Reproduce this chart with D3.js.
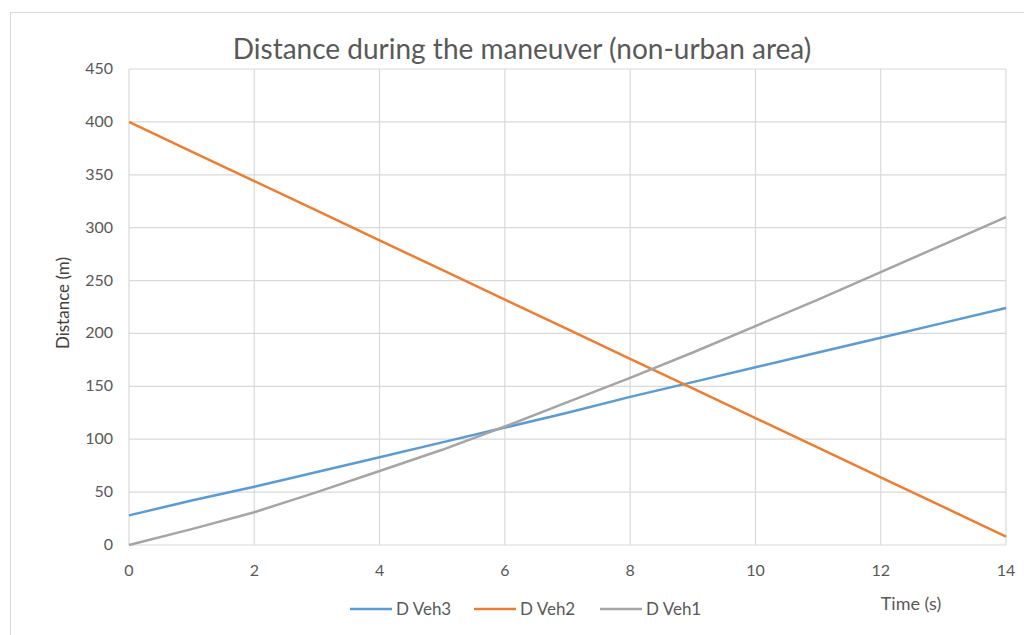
<!DOCTYPE html>
<html>
<head>
<meta charset="utf-8">
<script src="https://cdn.jsdelivr.net/npm/d3@7"></script>
<style>
  body { margin: 0; background: #fff; }
  svg { font-family: Lato, "Open Sans", sans-serif; }
  .grid line { stroke: #d9d9d9; stroke-width: 1.2; }
  .tick-label { fill: #595959; font-size: 16px; }
</style>
</head>
<body>
<div id="wrapper"></div>
<script>
// data (one value per second)
const times = [0, 1, 2, 3, 4, 5, 6, 7, 8, 9, 10, 11, 12, 13, 14];
const dVeh3 = [28, 42, 55, 69, 83, 97, 111, 125, 140, 154, 168, 182, 196, 210, 224];
const dVeh2 = [400, 372, 344, 316, 288, 260, 232, 204, 176, 148, 120, 92, 64, 36, 8];
const dVeh1 = [0, 15, 31, 50, 70, 90, 112, 135, 158, 182, 207, 232, 258, 284, 310];
const xTicks = [0, 2, 4, 6, 8, 10, 12, 14];
const yTicks = [0, 50, 100, 150, 200, 250, 300, 350, 400, 450];
const seriesNames = ['D Veh3', 'D Veh2', 'D Veh1'];
const seriesColors = ['#5b9bd5', '#ed7d31', '#a5a5a5'];

const width = 1024;
const height = 635;
const margin = { top: 69, right: 18, bottom: 90, left: 129 };

const svg = d3.select('#wrapper').append('svg')
  .attr('width', width)
  .attr('height', height);

// chart frame
svg.append('rect')
  .attr('x', 10.5).attr('y', 12.5)
  .attr('width', 1030).attr('height', 640)
  .attr('fill', 'none').attr('stroke', '#d9d9d9');

const xScale = d3.scaleLinear().domain([0, 14]).range([margin.left, width - margin.right]);
const yScale = d3.scaleLinear().domain([0, 450]).range([height - margin.bottom, margin.top]);

const grid = svg.append('g').attr('class', 'grid');
grid.selectAll('.h').data(yTicks).join('line')
  .attr('x1', xScale(0)).attr('x2', xScale(14))
  .attr('y1', d => yScale(d)).attr('y2', d => yScale(d));
grid.selectAll('.v').data(xTicks).join('line')
  .attr('x1', d => xScale(d)).attr('x2', d => xScale(d))
  .attr('y1', yScale(0)).attr('y2', yScale(450));

svg.selectAll('.ylab').data(yTicks).join('text')
  .attr('class', 'tick-label')
  .attr('x', margin.left - 16)
  .attr('y', d => yScale(d) + 5)
  .attr('text-anchor', 'end')
  .text(d => d);

svg.selectAll('.xlab').data(xTicks).join('text')
  .attr('class', 'tick-label')
  .attr('x', d => xScale(d))
  .attr('y', yScale(0) + 31)
  .attr('text-anchor', 'middle')
  .text(d => d);

const line = d3.line()
  .x((d, i) => xScale(times[i]))
  .y(d => yScale(d));

[dVeh3, dVeh2, dVeh1].forEach((values, i) => {
  svg.append('path')
    .attr('d', line(values))
    .attr('fill', 'none')
    .attr('stroke', seriesColors[i])
    .attr('stroke-width', 2.5);
});

// title and axis titles
svg.append('text')
  .attr('x', 522).attr('y', 59)
  .attr('text-anchor', 'middle')
  .attr('fill', '#595959')
  .style('font-size', '28px')
  .text('Distance during the maneuver (non-urban area)');

svg.append('text')
  .attr('transform', 'translate(69, 303) rotate(-90)')
  .attr('text-anchor', 'middle')
  .attr('fill', '#404040')
  .style('font-size', '17px')
  .text('Distance (m)');

svg.append('text')
  .attr('x', 911).attr('y', 610)
  .attr('text-anchor', 'middle')
  .attr('fill', '#595959')
  .style('font-size', '18px')
  .text('Time (s)');

// legend
const legendX = [350, 474, 600];
seriesNames.forEach((name, i) => {
  svg.append('line')
    .attr('x1', legendX[i]).attr('x2', legendX[i] + 42)
    .attr('y1', 609).attr('y2', 609)
    .attr('stroke', seriesColors[i]).attr('stroke-width', 2.5);
  svg.append('text')
    .attr('class', 'tick-label')
    .attr('x', legendX[i] + 46).attr('y', 615)
    .style('font-size', '17px')
    .text(name);
});
</script>
</body>
</html>
